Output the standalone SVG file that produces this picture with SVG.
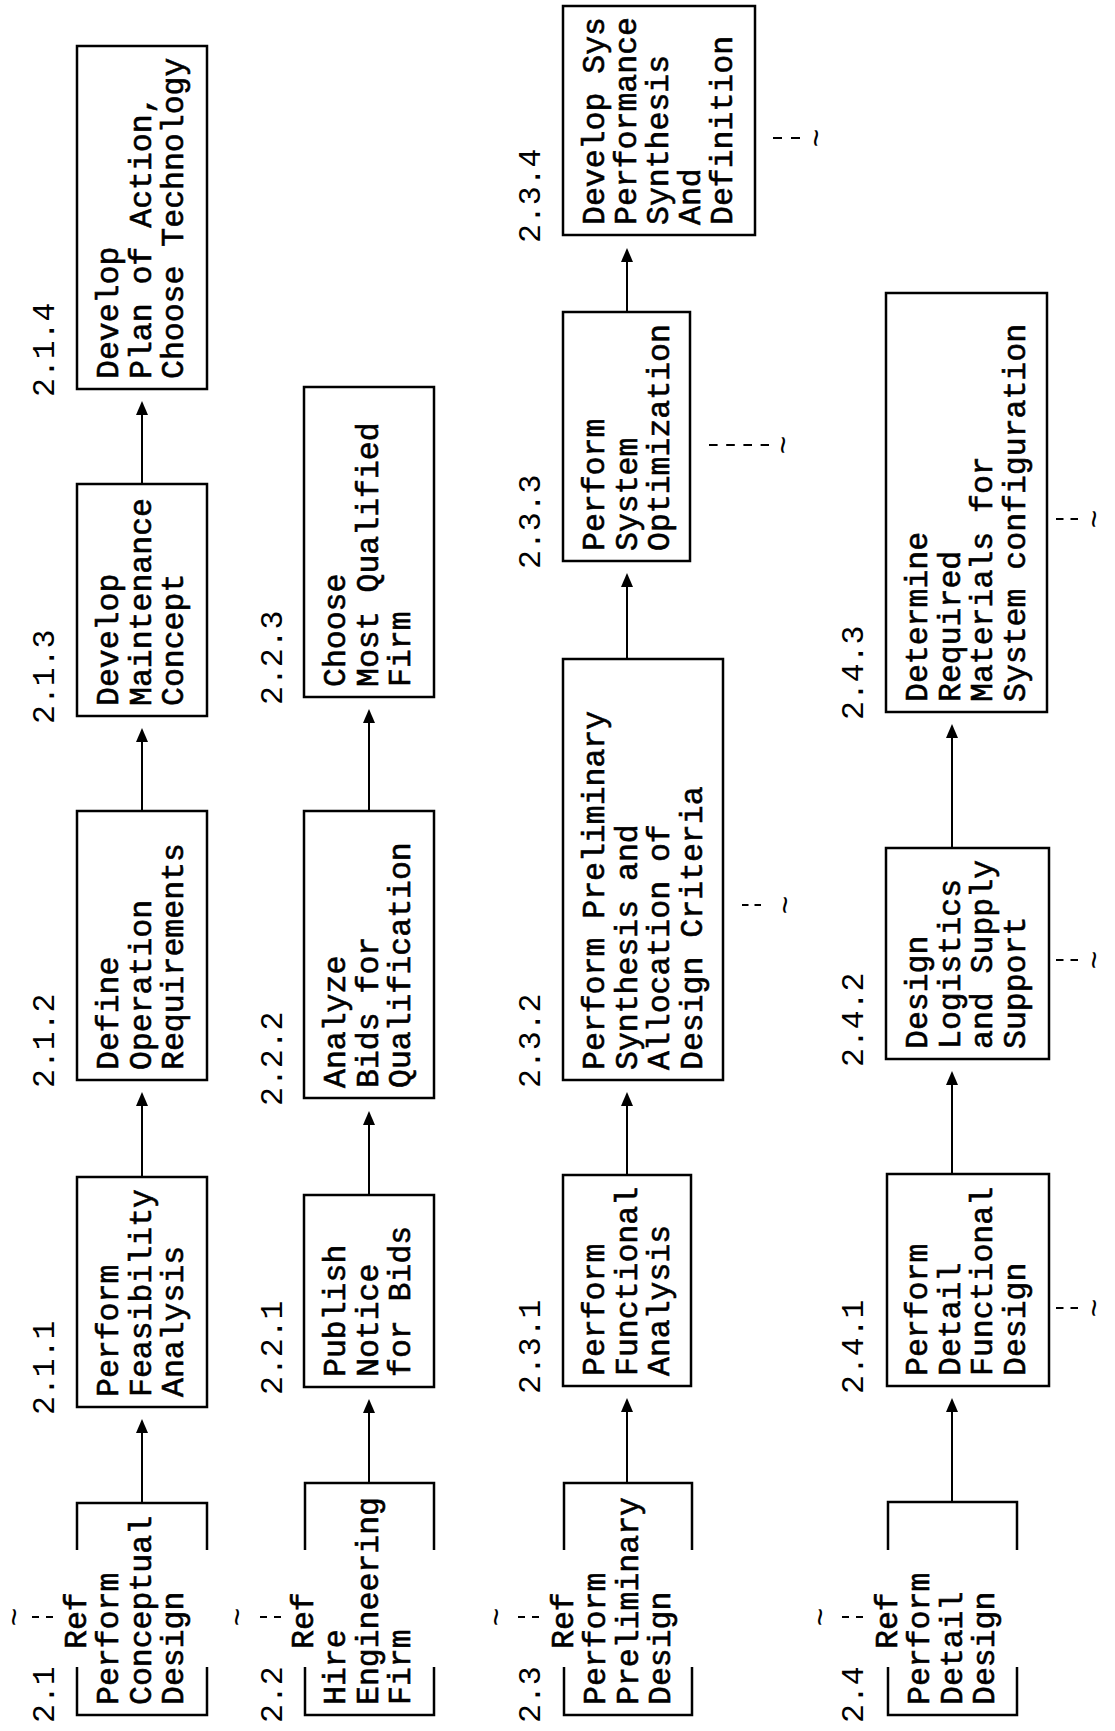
<svg xmlns="http://www.w3.org/2000/svg" width="1115" height="1731" viewBox="0 0 1115 1731">
  <style>
    .box { fill: #fff; stroke: #000; stroke-width: 2.5; }
    .br { fill: none; stroke: #000; stroke-width: 2.5; }
    .c { fill: none; stroke: #000; stroke-width: 2; }
    .d { fill: none; stroke: #000; stroke-width: 2; stroke-dasharray: 7 7; }
    .t { font-family: "Liberation Mono", "Courier New", monospace; font-size: 31.5px; fill: #000; }
    .bt { stroke: #000; stroke-width: 0.6; }
    .lbl { letter-spacing: 0; }
  </style>
  <defs>
    <marker id="arr" viewBox="0 0 14 12" refX="4" refY="6" markerWidth="14" markerHeight="12" markerUnits="userSpaceOnUse" orient="auto">
      <path d="M0,0 L14,6 L0,12 Z" fill="#000"/>
    </marker>
  </defs>
  <rect width="1115" height="1731" fill="#fff"/>

  <!-- connectors: upward flow inside each column -->
  <g id="connectors">
    <line class="c" x1="142" y1="1503" x2="142" y2="1429" marker-end="url(#arr)"/>
    <line class="c" x1="142" y1="1177" x2="142" y2="1102" marker-end="url(#arr)"/>
    <line class="c" x1="142" y1="811" x2="142" y2="738" marker-end="url(#arr)"/>
    <line class="c" x1="142" y1="484" x2="142" y2="411" marker-end="url(#arr)"/>

    <line class="c" x1="369" y1="1483" x2="369" y2="1409" marker-end="url(#arr)"/>
    <line class="c" x1="369" y1="1195" x2="369" y2="1121" marker-end="url(#arr)"/>
    <line class="c" x1="369" y1="811" x2="369" y2="719" marker-end="url(#arr)"/>

    <line class="c" x1="627" y1="1483" x2="627" y2="1408" marker-end="url(#arr)"/>
    <line class="c" x1="627" y1="1175" x2="627" y2="1102" marker-end="url(#arr)"/>
    <line class="c" x1="627" y1="659" x2="627" y2="583" marker-end="url(#arr)"/>
    <line class="c" x1="627" y1="312" x2="627" y2="258" marker-end="url(#arr)"/>

    <line class="c" x1="952" y1="1502" x2="952" y2="1408" marker-end="url(#arr)"/>
    <line class="c" x1="952" y1="1174" x2="952" y2="1081" marker-end="url(#arr)"/>
    <line class="c" x1="952" y1="848" x2="952" y2="734" marker-end="url(#arr)"/>

    <!-- break marks beside the reference brackets -->
    <line class="d" x1="32" y1="1617" x2="53" y2="1617"/>
    <line class="d" x1="260" y1="1617" x2="281" y2="1617"/>
    <line class="d" x1="518" y1="1617" x2="539" y2="1617"/>
    <line class="d" x1="842" y1="1617" x2="863" y2="1617"/>
    <!-- break marks beside the last boxes -->
    <line class="d" x1="773" y1="138" x2="800" y2="138" style="stroke-dasharray:9 9"/>
    <line class="d" x1="709" y1="445" x2="769" y2="445" style="stroke-dasharray:8.6 8.6"/>
    <line class="d" x1="742" y1="905" x2="761" y2="905" style="stroke-dasharray:6.5 6"/>
    <line class="d" x1="1056" y1="519" x2="1078" y2="519" style="stroke-dasharray:7.5 7"/>
    <line class="d" x1="1056" y1="960" x2="1078" y2="960" style="stroke-dasharray:7.5 7"/>
    <line class="d" x1="1056" y1="1308" x2="1078" y2="1308" style="stroke-dasharray:7.5 7"/>
    <g class="t">
      <text transform="translate(25,1617) rotate(-90)" text-anchor="middle">~</text>
      <text transform="translate(248,1617) rotate(-90)" text-anchor="middle">~</text>
      <text transform="translate(507,1617) rotate(-90)" text-anchor="middle">~</text>
      <text transform="translate(831,1617) rotate(-90)" text-anchor="middle">~</text>
      <text transform="translate(827,138) rotate(-90)" text-anchor="middle">~</text>
      <text transform="translate(794,445) rotate(-90)" text-anchor="middle">~</text>
      <text transform="translate(796,905) rotate(-90)" text-anchor="middle">~</text>
      <text transform="translate(1105,519) rotate(-90)" text-anchor="middle">~</text>
      <text transform="translate(1105,960) rotate(-90)" text-anchor="middle">~</text>
      <text transform="translate(1105,1308) rotate(-90)" text-anchor="middle">~</text>
    </g>
  </g>

  <!-- column 2.1 -->
  <g id="n2-1">
    <path class="br" d="M77,1550 V1503 H207 V1550 M77,1667 V1715 H207 V1667"/>
    <text class="t lbl" transform="translate(54,1723) rotate(-90)">2.1</text>
    <text class="t bt" transform="translate(118,1705) rotate(-90)"><tspan x="56" y="-32">Ref</tspan><tspan x="0" y="0">Perform</tspan><tspan x="0" y="32.5">Conceptual</tspan><tspan x="0" y="65">Design</tspan></text>
  </g>
  <g id="n2-1-1">
    <rect class="box" x="77" y="1177" width="130" height="230"/>
    <text class="t lbl" transform="translate(54,1415) rotate(-90)">2.1.1</text>
    <text class="t bt" transform="translate(118,1397) rotate(-90)"><tspan x="0" y="0">Perform</tspan><tspan x="0" y="32.5">Feasibility</tspan><tspan x="0" y="65">Analysis</tspan></text>
  </g>
  <g id="n2-1-2">
    <rect class="box" x="77" y="811" width="130" height="269"/>
    <text class="t lbl" transform="translate(54,1088) rotate(-90)">2.1.2</text>
    <text class="t bt" transform="translate(118,1070) rotate(-90)"><tspan x="0" y="0">Define</tspan><tspan x="0" y="32.5">Operation</tspan><tspan x="0" y="65">Requirements</tspan></text>
  </g>
  <g id="n2-1-3">
    <rect class="box" x="77" y="484" width="130" height="232"/>
    <text class="t lbl" transform="translate(54,724) rotate(-90)">2.1.3</text>
    <text class="t bt" transform="translate(118,706) rotate(-90)"><tspan x="0" y="0">Develop</tspan><tspan x="0" y="32.5">Maintenance</tspan><tspan x="0" y="65">Concept</tspan></text>
  </g>
  <g id="n2-1-4">
    <rect class="box" x="77" y="46" width="130" height="343"/>
    <text class="t lbl" transform="translate(54,397) rotate(-90)">2.1.4</text>
    <text class="t bt" transform="translate(118,379) rotate(-90)"><tspan x="0" y="0">Develop</tspan><tspan x="0" y="32.5">Plan of Action,</tspan><tspan x="0" y="65">Choose Technology</tspan></text>
  </g>

  <!-- column 2.2 -->
  <g id="n2-2">
    <path class="br" d="M305,1550 V1483 H434 V1550 M305,1667 V1715 H434 V1667"/>
    <text class="t lbl" transform="translate(282,1723) rotate(-90)">2.2</text>
    <text class="t bt" transform="translate(345,1705) rotate(-90)"><tspan x="56" y="-32">Ref</tspan><tspan x="0" y="0">Hire</tspan><tspan x="0" y="32.5">Engineering</tspan><tspan x="0" y="65">Firm</tspan></text>
  </g>
  <g id="n2-2-1">
    <rect class="box" x="304" y="1195" width="130" height="192"/>
    <text class="t lbl" transform="translate(282,1395) rotate(-90)">2.2.1</text>
    <text class="t bt" transform="translate(345,1377) rotate(-90)"><tspan x="0" y="0">Publish</tspan><tspan x="0" y="32.5">Notice</tspan><tspan x="0" y="65">for Bids</tspan></text>
  </g>
  <g id="n2-2-2">
    <rect class="box" x="304" y="811" width="130" height="287"/>
    <text class="t lbl" transform="translate(282,1106) rotate(-90)">2.2.2</text>
    <text class="t bt" transform="translate(345,1088) rotate(-90)"><tspan x="0" y="0">Analyze</tspan><tspan x="0" y="32.5">Bids for</tspan><tspan x="0" y="65">Qualification</tspan></text>
  </g>
  <g id="n2-2-3">
    <rect class="box" x="304" y="387" width="130" height="310"/>
    <text class="t lbl" transform="translate(282,705) rotate(-90)">2.2.3</text>
    <text class="t bt" transform="translate(345,687) rotate(-90)"><tspan x="0" y="0">Choose</tspan><tspan x="0" y="32.5">Most Qualified</tspan><tspan x="0" y="65">Firm</tspan></text>
  </g>

  <!-- column 2.3 -->
  <g id="n2-3">
    <path class="br" d="M564,1550 V1483 H692 V1550 M564,1667 V1715 H692 V1667"/>
    <text class="t lbl" transform="translate(540,1723) rotate(-90)">2.3</text>
    <text class="t bt" transform="translate(605,1705) rotate(-90)"><tspan x="56" y="-32">Ref</tspan><tspan x="0" y="0">Perform</tspan><tspan x="0" y="32.5">Preliminary</tspan><tspan x="0" y="65">Design</tspan></text>
  </g>
  <g id="n2-3-1">
    <rect class="box" x="563" y="1175" width="128" height="211"/>
    <text class="t lbl" transform="translate(540,1394) rotate(-90)">2.3.1</text>
    <text class="t bt" transform="translate(604,1376) rotate(-90)"><tspan x="0" y="0">Perform</tspan><tspan x="0" y="32.5">Functional</tspan><tspan x="0" y="65">Analysis</tspan></text>
  </g>
  <g id="n2-3-2">
    <rect class="box" x="563" y="659" width="160" height="421"/>
    <text class="t lbl" transform="translate(540,1088) rotate(-90)">2.3.2</text>
    <text class="t bt" transform="translate(604,1070) rotate(-90)"><tspan x="0" y="0">Perform Preliminary</tspan><tspan x="0" y="32.5">Synthesis and</tspan><tspan x="0" y="65">Allocation of</tspan><tspan x="0" y="97.5">Design Criteria</tspan></text>
  </g>
  <g id="n2-3-3">
    <rect class="box" x="563" y="312" width="127" height="249"/>
    <text class="t lbl" transform="translate(540,569) rotate(-90)">2.3.3</text>
    <text class="t bt" transform="translate(604,551) rotate(-90)"><tspan x="0" y="0">Perform</tspan><tspan x="0" y="32.5">System</tspan><tspan x="0" y="65">Optimization</tspan></text>
  </g>
  <g id="n2-3-4">
    <rect class="box" x="563" y="6" width="192" height="229"/>
    <text class="t lbl" transform="translate(540,243) rotate(-90)">2.3.4</text>
    <text class="t bt" transform="translate(604,225) rotate(-90)"><tspan x="0" y="0">Develop Sys</tspan><tspan x="0" y="32">Performance</tspan><tspan x="0" y="64">Synthesis</tspan><tspan x="0" y="96">And</tspan><tspan x="0" y="128">Definition</tspan></text>
  </g>

  <!-- column 2.4 -->
  <g id="n2-4">
    <path class="br" d="M888,1550 V1502 H1017 V1550 M888,1667 V1715 H1017 V1667"/>
    <text class="t lbl" transform="translate(863,1723) rotate(-90)">2.4</text>
    <text class="t bt" transform="translate(929,1705) rotate(-90)"><tspan x="56" y="-32">Ref</tspan><tspan x="0" y="0">Perform</tspan><tspan x="0" y="32.5">Detail</tspan><tspan x="0" y="65">Design</tspan></text>
  </g>
  <g id="n2-4-1">
    <rect class="box" x="887" y="1174" width="162" height="212"/>
    <text class="t lbl" transform="translate(863,1394) rotate(-90)">2.4.1</text>
    <text class="t bt" transform="translate(927,1376) rotate(-90)"><tspan x="0" y="0">Perform</tspan><tspan x="0" y="32.5">Detail</tspan><tspan x="0" y="65">Functional</tspan><tspan x="0" y="97.5">Design</tspan></text>
  </g>
  <g id="n2-4-2">
    <rect class="box" x="886" y="848" width="163" height="211"/>
    <text class="t lbl" transform="translate(863,1067) rotate(-90)">2.4.2</text>
    <text class="t bt" transform="translate(927,1049) rotate(-90)"><tspan x="0" y="0">Design</tspan><tspan x="0" y="32.5">Logistics</tspan><tspan x="0" y="65">and Supply</tspan><tspan x="0" y="97.5">Support</tspan></text>
  </g>
  <g id="n2-4-3">
    <rect class="box" x="886" y="293" width="161" height="419"/>
    <text class="t lbl" transform="translate(863,720) rotate(-90)">2.4.3</text>
    <text class="t bt" transform="translate(927,702) rotate(-90)"><tspan x="0" y="0">Determine</tspan><tspan x="0" y="32.5">Required</tspan><tspan x="0" y="65">Materials for</tspan><tspan x="0" y="97.5">System configuration</tspan></text>
  </g>
</svg>
